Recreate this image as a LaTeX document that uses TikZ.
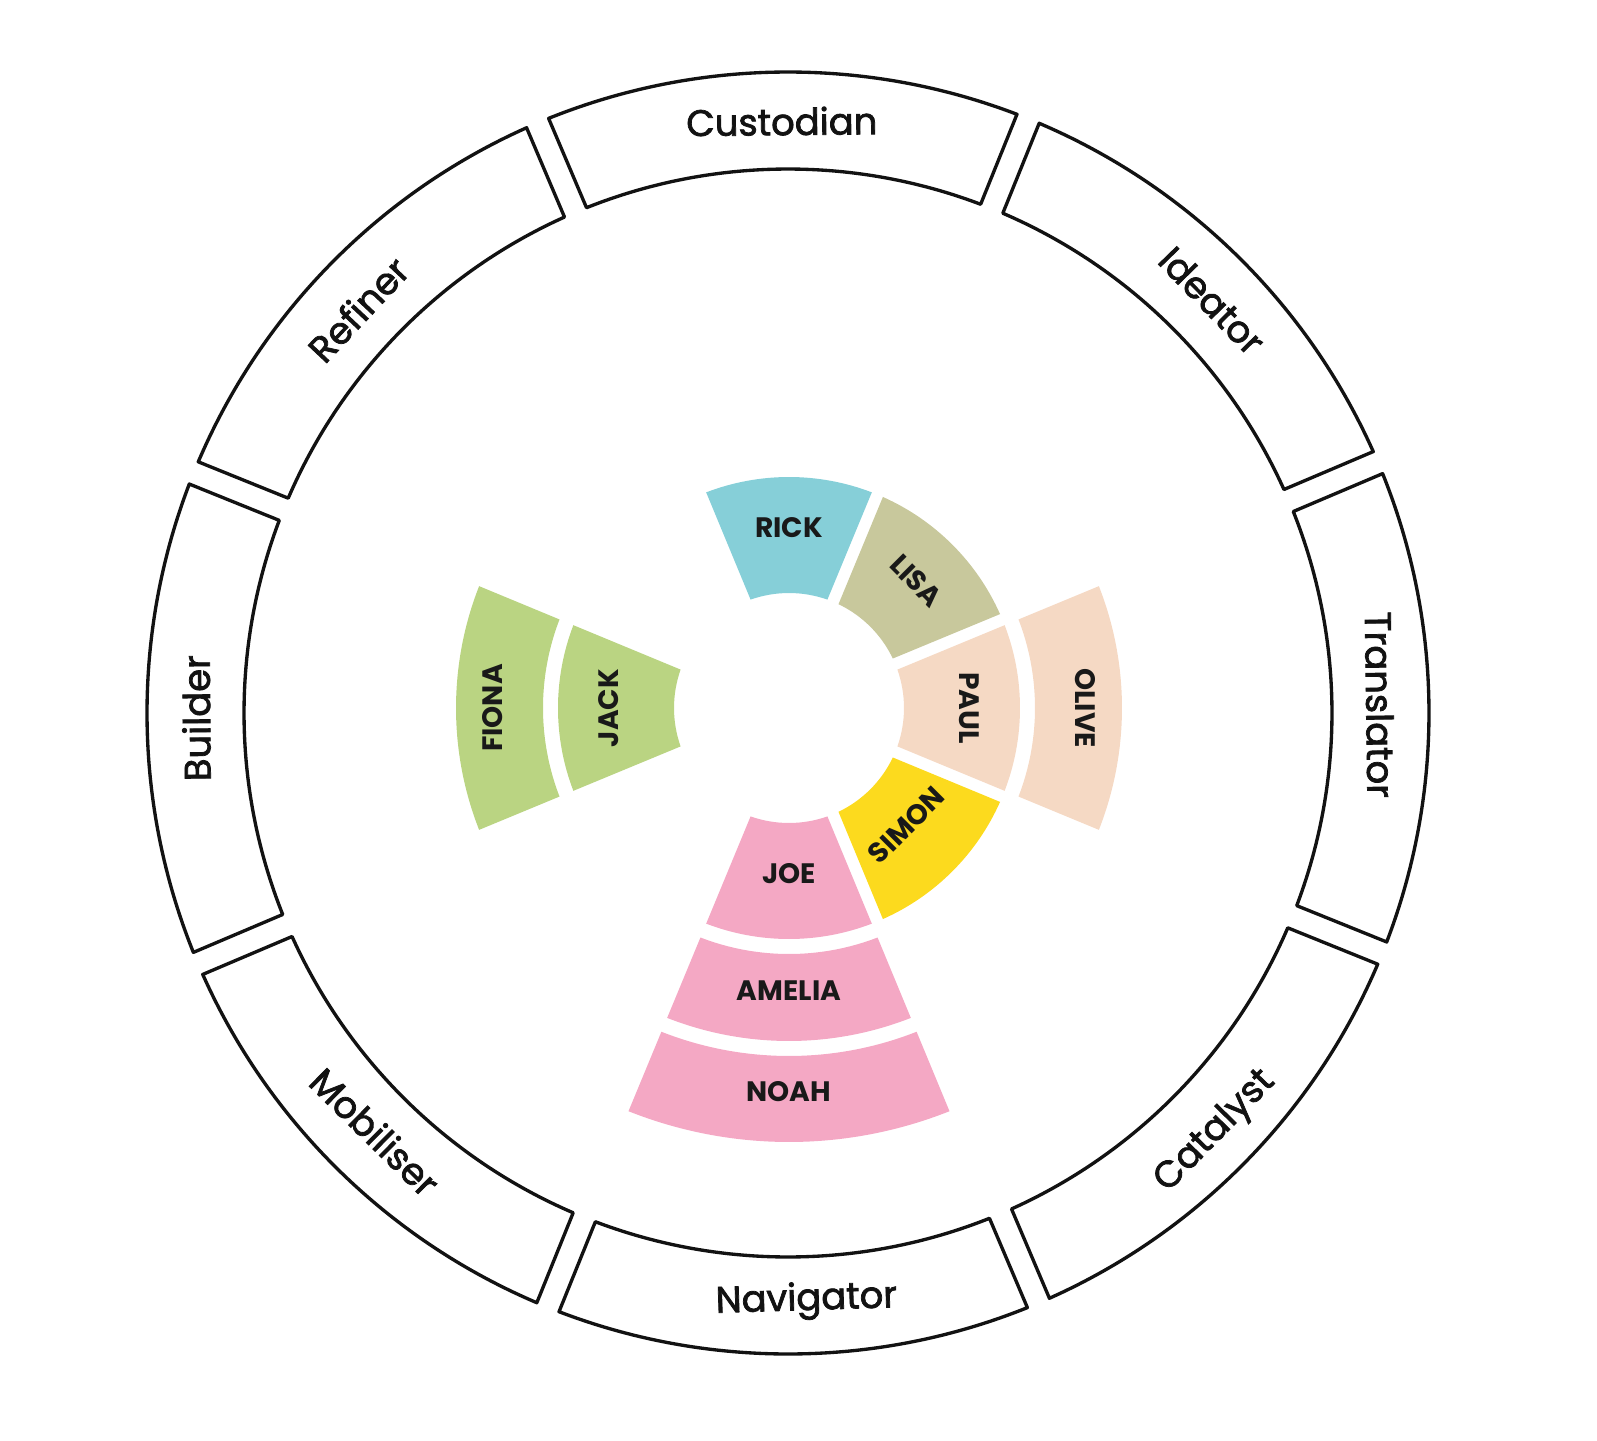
\documentclass[tikz,border=0pt]{standalone}
\usepackage{fontspec}
\setmainfont{Poppins}
\newfontfamily\rolefont{Poppins}[FakeBold=2]
\usepackage{xcolor}
\usepackage{tikz}
\usetikzlibrary{calc}

\definecolor{rickc}{HTML}{86CFD8}
\definecolor{lisac}{HTML}{C8C89C}
\definecolor{peachc}{HTML}{F5D9C4}
\definecolor{simonc}{HTML}{FCDA1E}
\definecolor{pinkc}{HTML}{F4A8C4}
\definecolor{greenc}{HTML}{BAD482}

\begin{document}
\begin{tikzpicture}[
  ringseg/.style={draw=black!93, line width=0.95pt, line join=round, fill=white},
  rolelbl/.style={font=\rolefont\fontsize{10.5}{12}\selectfont, inner sep=0pt, text=black!93},
  petal/.style={draw=none},
  namelbl/.style={font=\fontsize{8}{9}\selectfont\bfseries, inner sep=0pt, text=black!90},
]
\useasboundingbox (-7.88,-7.27) rectangle (8.09,7.13);

% outer ring of roles
\foreach \a/\t/\r/\role in {90/90.6/5.9/Custodian, 45/44.2/5.9/Ideator, 0/0.8/5.9/Translator,
    -45/-44.4/6.0/Catalyst, -90/-88.2/5.9/Navigator, -135/-134.6/5.9/Mobiliser,
    180/180.5/5.9/Builder, 135/136.8/5.88/Refiner}{
  \pgfmathsetmacro\m{\a+0.5}
  \pgfmathsetmacro\rot{ifthenelse(\a>=0,\t-90,\t+90)}
  \draw[ringseg] ({\m-22.5+1.07}:6.41)
      arc[start angle={\m-22.5+1.07}, end angle={\m+22.5-1.07}, radius=6.41]
      -- ({\m+22.5-1.26}:5.44)
      arc[start angle={\m+22.5-1.26}, end angle={\m-22.5+1.26}, radius=5.44] -- cycle;
  \node[rolelbl, rotate=\rot, yshift=0.5pt] (\role) at (\t:\r) {\role};
}

% team members by role
\begin{scope}[shift={(0.01,0.05)}]
\foreach \a/\ri/\ro/\col/\who in {90/1.15/2.31/rickc/RICK, 45/1.15/2.31/lisac/LISA,
    0/1.15/2.31/peachc/PAUL, 0/2.46/3.33/peachc/OLIVE, -45/1.15/2.31/simonc/SIMON,
    -90/1.15/2.31/pinkc/JOE, -90/2.46/3.33/pinkc/AMELIA, -90/3.48/4.34/pinkc/NOAH,
    180/1.15/2.31/greenc/JACK, 180/2.46/3.33/greenc/FIONA}{
  \pgfmathsetmacro\di{asin(0.06/\ri)}
  \pgfmathsetmacro\dout{asin(0.06/\ro)}
  \pgfmathsetmacro\rm{(\ri+\ro)/2}
  \pgfmathsetmacro\rot{ifthenelse(\a>=0,\a-90,\a+90)}
  \fill[petal, \col] ({\a-22.5+\dout}:\ro)
      arc[start angle={\a-22.5+\dout}, end angle={\a+22.5-\dout}, radius=\ro]
      -- ({\a+22.5-\di}:\ri)
      arc[start angle={\a+22.5-\di}, end angle={\a-22.5+\di}, radius=\ri] -- cycle;
  \node[namelbl, rotate=\rot, yshift=2pt] (\who) at (\a:\rm) {\who};
}
\end{scope}
\end{tikzpicture}
\end{document}
